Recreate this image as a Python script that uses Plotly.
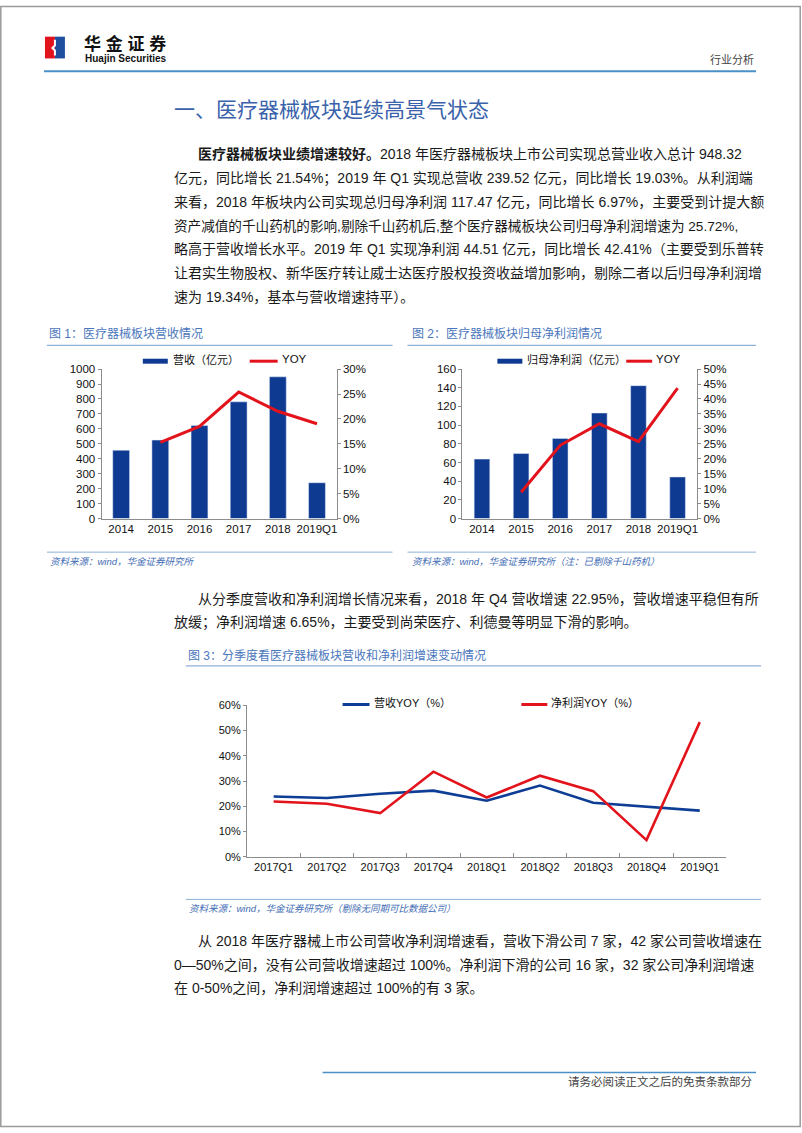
import plotly.graph_objects as go

W, H = 802, 1133

# ---------------- data ----------------
years = ["2014", "2015", "2016", "2017", "2018", "2019Q1"]
revenue = [457, 525, 622, 781, 948.32, 239.52]              # 营收（亿元）
revenue_yoy = [None, 0.153, 0.185, 0.254, 0.2154, 0.1903]     # YOY
profit = [63.6, 69.6, 85.8, 113.0, 142.3, 44.5]               # 归母净利润（亿元）
profit_yoy = [None, 0.088, 0.245, 0.317, 0.2572, 0.436]       # YOY

quarters = ["2017Q1", "2017Q2", "2017Q3", "2017Q4", "2018Q1",
            "2018Q2", "2018Q3", "2018Q4", "2019Q1"]
q_rev_yoy = [0.239, 0.233, 0.250, 0.262, 0.222, 0.282, 0.214, 0.198, 0.183]
q_np_yoy = [0.219, 0.210, 0.173, 0.337, 0.235, 0.321, 0.260, 0.0665, 0.533]

# ---------------- helpers ----------------
def fx(px):
    return px / W

def fy(py):
    return 1 - py / H

CJK = "Liberation Sans, Arial, Noto Sans CJK SC, sans-serif"
BAR = "#0F3A92"
RED = "#E3131C"
BLUE_LINE = "#0D3D95"
AX = "#8C8C8C"
TY = -2  # small vertical correction for text

fig = go.Figure()

# chart 1
fig.add_trace(go.Bar(x=years, y=revenue, marker_color=BAR, width=0.43,
                     xaxis="x", yaxis="y", showlegend=False))
fig.add_trace(go.Scatter(x=years, y=revenue_yoy, mode="lines",
                         line=dict(color=RED, width=3),
                         xaxis="x", yaxis="y2", showlegend=False))
# chart 2
fig.add_trace(go.Bar(x=years, y=profit, marker_color=BAR, width=0.40,
                     xaxis="x2", yaxis="y3", showlegend=False))
fig.add_trace(go.Scatter(x=years, y=profit_yoy, mode="lines",
                         line=dict(color=RED, width=3),
                         xaxis="x2", yaxis="y4", showlegend=False))
# chart 3
fig.add_trace(go.Scatter(x=quarters, y=q_rev_yoy, mode="lines",
                         line=dict(color=BLUE_LINE, width=2.6),
                         xaxis="x3", yaxis="y5", showlegend=False))
fig.add_trace(go.Scatter(x=quarters, y=q_np_yoy, mode="lines",
                         line=dict(color=RED, width=2.6),
                         xaxis="x3", yaxis="y5", showlegend=False))

tickfont = dict(family=CJK, size=11.5, color="#111")
tickfont3 = dict(family=CJK, size=11, color="#111")

c1x = [fx(101.7), fx(337)]
c2x = [fx(463), fx(698)]
cy = [fy(518), fy(367)]
c3x = [fx(247.3), fx(727.3)]
c3y = [fy(860), fy(706.7)]

common_x = dict(type="category", showgrid=False, showline=True, linecolor=AX,
                linewidth=1, ticks="", tickfont=tickfont, range=[-0.5, 5.5],
                fixedrange=True)
common_y = dict(showgrid=False, showline=True, linecolor=AX, linewidth=1,
                ticks="outside", ticklen=3, tickcolor=AX, tickfont=tickfont,
                zeroline=False, fixedrange=True)

fig.update_layout(
    width=W, height=H, autosize=False,
    margin=dict(l=0, r=0, t=0, b=0),
    paper_bgcolor="white", plot_bgcolor="white",
    xaxis=dict(common_x, domain=c1x, anchor="y"),
    yaxis=dict(common_y, domain=cy, anchor="x", range=[0, 1000], dtick=100),
    yaxis2=dict(common_y, overlaying="y", side="right", anchor="x",
                range=[0, 0.30], dtick=0.05, tickformat=".0%"),
    xaxis2=dict(common_x, domain=c2x, anchor="y3"),
    yaxis3=dict(common_y, domain=cy, anchor="x2", range=[0, 160], dtick=20),
    yaxis4=dict(common_y, overlaying="y3", side="right", anchor="x2",
                range=[0, 0.50], dtick=0.05, tickformat=".0%"),
    xaxis3=dict(common_x, domain=c3x, anchor="y5", range=[-0.5, 8.5],
                ticks="inside", ticklen=4, tickcolor=AX, tickson="boundaries",
                tickfont=tickfont3),
    yaxis5=dict(common_y, domain=c3y, anchor="x3", range=[0, 0.60],
                dtick=0.10, tickformat=".0%", tickfont=tickfont3),
)

shapes = []
annotations = []

def rect(x0, y0, x1, y1, color):
    shapes.append(dict(type="rect", xref="paper", yref="paper",
                       x0=fx(x0), x1=fx(x1), y0=fy(y1), y1=fy(y0),
                       fillcolor=color, line=dict(width=0), layer="above"))

def hline(x0, x1, y, color, width):
    shapes.append(dict(type="line", xref="paper", yref="paper",
                       x0=fx(x0), x1=fx(x1), y0=fy(y), y1=fy(y),
                       line=dict(color=color, width=width)))

def text(x, y, s, size, color="#1a1a1a", anchor="left", family=CJK):
    annotations.append(dict(xref="paper", yref="paper", x=fx(x), y=fy(y + TY),
                            text=s, showarrow=False, xanchor=anchor,
                            yanchor="middle",
                            font=dict(family=family, size=size, color=color)))

# page border
shapes.append(dict(type="rect", xref="paper", yref="paper", x0=0.001, x1=0.999,
                   y0=0.0005, y1=0.9995, line=dict(color="#9A9A9A", width=1.5)))

# header logo
rect(45, 31, 55, 53, "#E1141E")
rect(55, 31, 65, 53, "#1E4F9F")
shapes.append(dict(type="path", xref="paper", yref="paper",
                   path="M {},{} L {},{} L {},{} L {},{} L {},{}".format(
                       fx(55), fy(34), fx(55), fy(40), fx(52.5), fy(42.5),
                       fx(55), fy(45), fx(55), fy(50)),
                   line=dict(color="white", width=2)))
text(82, 40, "<b>华 金 证 券</b>", 17, "#111")
text(83, 55, "<b>Huajin Securities</b>", 10, "#111")
text(757, 56, "行业分析", 11, "#444", anchor="right")
hline(44, 757, 66, "#4A90C6", 2)

# section title
text(172, 107, "一、医疗器械板块延续高景气状态", 21, "#3A62AB")

# paragraph 1
p1 = [
    "<b>医疗器械板块业绩增速较好。</b>2018 年医疗器械板块上市公司实现总营业收入总计 948.32",
    "亿元，同比增长 21.54%；2019 年 Q1 实现总营收 239.52 亿元，同比增长 19.03%。从利润端",
    "来看，2018 年板块内公司实现总归母净利润 117.47 亿元，同比增长 6.97%，主要受到计提大额",
    "资产减值的千山药机的影响,剔除千山药机后,整个医疗器械板块公司归母净利润增速为 25.72%,",
    "略高于营收增长水平。2019 年 Q1 实现净利润 44.51 亿元，同比增长 42.41%（主要受到乐普转",
    "让君实生物股权、新华医疗转让威士达医疗股权投资收益增加影响，剔除二者以后归母净利润增",
    "速为 19.34%，基本与营收增速持平）。",
]
for i, s in enumerate(p1):
    text(196 if i == 0 else 172, 152 + 24 * i, s, 13.6 if i == 3 else 14)

# figure captions / sources
CAP = "#4A76BC"
SRC = "#3F6DB5"
LINEC = "#8FB2D6"
text(47, 333, "图 1：医疗器械板块营收情况", 12, CAP)
hline(47, 393, 343, LINEC, 1.3)
hline(47, 393, 552, LINEC, 1)
text(48, 563, "<i>资料来源：wind，华金证券研究所</i>", 9.5, SRC)

text(411, 333, "图 2：医疗器械板块归母净利润情况", 12, CAP)
hline(408, 757, 343, LINEC, 1.3)
hline(408, 757, 552, LINEC, 1)
text(411, 563, "<i>资料来源：wind，华金证券研究所（注：已剔除千山药机）</i>", 9.5, SRC)

# chart 1 legend
rect(143, 356.5, 168, 361.5, BAR)
text(171, 359, "营收（亿元）", 11, "#111")
hline(250, 278, 359, RED, 3)
text(280, 359, "YOY", 11.5, "#111")

# chart 2 legend
rect(498, 356.5, 523, 361.5, BAR)
text(526, 359, "归母净利润（亿元）", 11, "#111")
hline(627, 653, 359, RED, 3)
text(655, 359, "YOY", 11.5, "#111")

# paragraph 2
p2 = [
    "从分季度营收和净利润增长情况来看，2018 年 Q4 营收增速 22.95%，营收增速平稳但有所",
    "放缓；净利润增速 6.65%，主要受到尚荣医疗、利德曼等明显下滑的影响。",
]
for i, s in enumerate(p2):
    text(196 if i == 0 else 172, 601 + 24 * i, s, 14)

# chart 3 caption / legend / source
text(186, 658, "图 3：分季度看医疗器械板块营收和净利润增速变动情况", 12, CAP)
hline(186, 762, 667, LINEC, 1.3)
hline(343, 370, 706, BLUE_LINE, 3)
text(372, 706, "营收YOY（%）", 11, "#111")
hline(522, 548, 706, RED, 3)
text(550, 706, "净利润YOY（%）", 11, "#111")
hline(186, 762, 903, LINEC, 1)
text(187, 914, "<i>资料来源：wind，华金证券研究所（剔除无同期可比数据公司）</i>", 9.5, SRC)

# paragraph 3
p3 = [
    "从 2018 年医疗器械上市公司营收净利润增速看，营收下滑公司 7 家，42 家公司营收增速在",
    "0—50%之间，没有公司营收增速超过 100%。净利润下滑的公司 16 家，32 家公司净利润增速",
    "在 0-50%之间，净利润增速超过 100%的有 3 家。",
]
for i, s in enumerate(p3):
    text(196 if i == 0 else 172, 947 + 24 * i, s, 14)

# footer
hline(323, 757, 1078, "#4A90C6", 1.5)
text(755, 1089, "请务必阅读正文之后的免责条款部分", 11.5, "#444", anchor="right")

fig.update_layout(shapes=shapes, annotations=annotations)

fig.write_html("out.html", config={"displayModeBar": False, "staticPlot": True})
